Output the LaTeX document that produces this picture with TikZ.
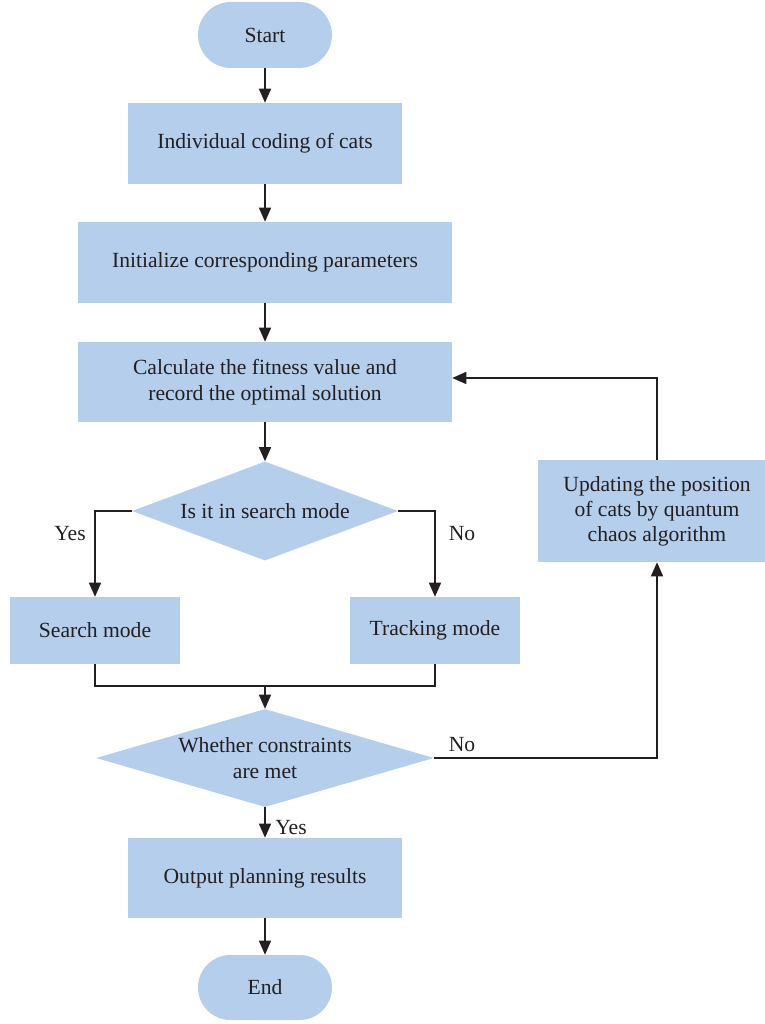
\documentclass[tikz,border=0pt]{standalone}
\usepackage{fontspec}
\setmainfont{Liberation Serif}
\usetikzlibrary{arrows.meta,calc,positioning,shapes.geometric}
\definecolor{boxblue}{RGB}{180,206,236}
\definecolor{ink}{RGB}{35,31,32}

\begin{document}
\begin{tikzpicture}[
    x=0.75pt, y=-0.75pt,
    every node/.style={font=\fontsize{16.2}{19.5}\selectfont, text=ink},
    term/.style={rectangle, rounded corners=24.7pt, fill=boxblue, minimum width=100.5pt, minimum height=49.5pt},
    proc/.style={rectangle, fill=boxblue, align=center, inner sep=0pt},
    dec/.style={diamond, fill=boxblue, align=center, inner sep=0pt},
    arr/.style={draw=ink, line width=1pt, -{Triangle[length=10.5pt,width=9pt]}},
    line/.style={draw=ink, line width=1pt}
]
    \useasboundingbox (0,0) rectangle (764,1024);

    \node[term] (start) at (265,35) {Start};
    \node[proc, minimum width=205.5pt, minimum height=60.75pt] (code) at (265,143.5) {Individual coding of cats};
    \node[proc, minimum width=280.5pt, minimum height=60.75pt] (init) at (265,262.5) {Initialize corresponding parameters};
    \node[proc, minimum width=280.5pt, minimum height=60pt] (fit) at (265,382) {Calculate the fitness value and\\record the optimal solution};
    \node[dec, aspect=2.69, minimum width=199.5pt, minimum height=74.25pt] (mode) at (265,511) {Is it in search mode};
    \node[proc, minimum width=127.5pt, minimum height=50.25pt] (search) at (95,630.5) {Search mode};
    \node[proc, minimum width=127.5pt, minimum height=50.25pt] (track) at (435,630.5) {Tracking mode};
    \node[dec, aspect=3.45, minimum width=253.5pt, minimum height=73.5pt] (cons) at (265,758) {Whether constraints\\are met};
    \node[proc, minimum width=205.5pt, minimum height=60pt] (out) at (265,878) {Output planning results};
    \node[term, minimum height=48.75pt, rounded corners=24.3pt] (end) at (265,987.5) {End};
    \node[proc, minimum width=178.5pt, minimum height=76.5pt, font=\fontsize{16.2}{18.75}\selectfont] (upd) at (657,511) {Updating the position\\of cats by quantum\\chaos algorithm};

    % labels
    \node (yesA) at (70,534) {Yes};
    \node (noA) at (462,534) {No};
    \node (noB) at (462,745) {No};
    \node (yesB) at (291,828) {Yes};

    % connectors
    \draw[arr] (start) -- (code);
    \draw[arr] (code) -- (init);
    \draw[arr] (init) -- (fit);
    \draw[arr] (fit) -- (mode);
    \draw[arr] (mode.west) -| (search.north);
    \draw[arr] (mode.east) -| (track.north);
    \coordinate (merge) at (265,686);
    \draw[line] (search.south) |- (merge) -| (track.south);
    \draw[arr] (merge) -- (cons.north);
    \draw[arr] (cons.south) -- (out.north);
    \draw[arr] (out) -- (end);
    \draw[arr] (cons.east) -| (upd.south);
    \draw[arr] (upd.north) |- ([yshift=3pt]fit.east);
\end{tikzpicture}
\end{document}
